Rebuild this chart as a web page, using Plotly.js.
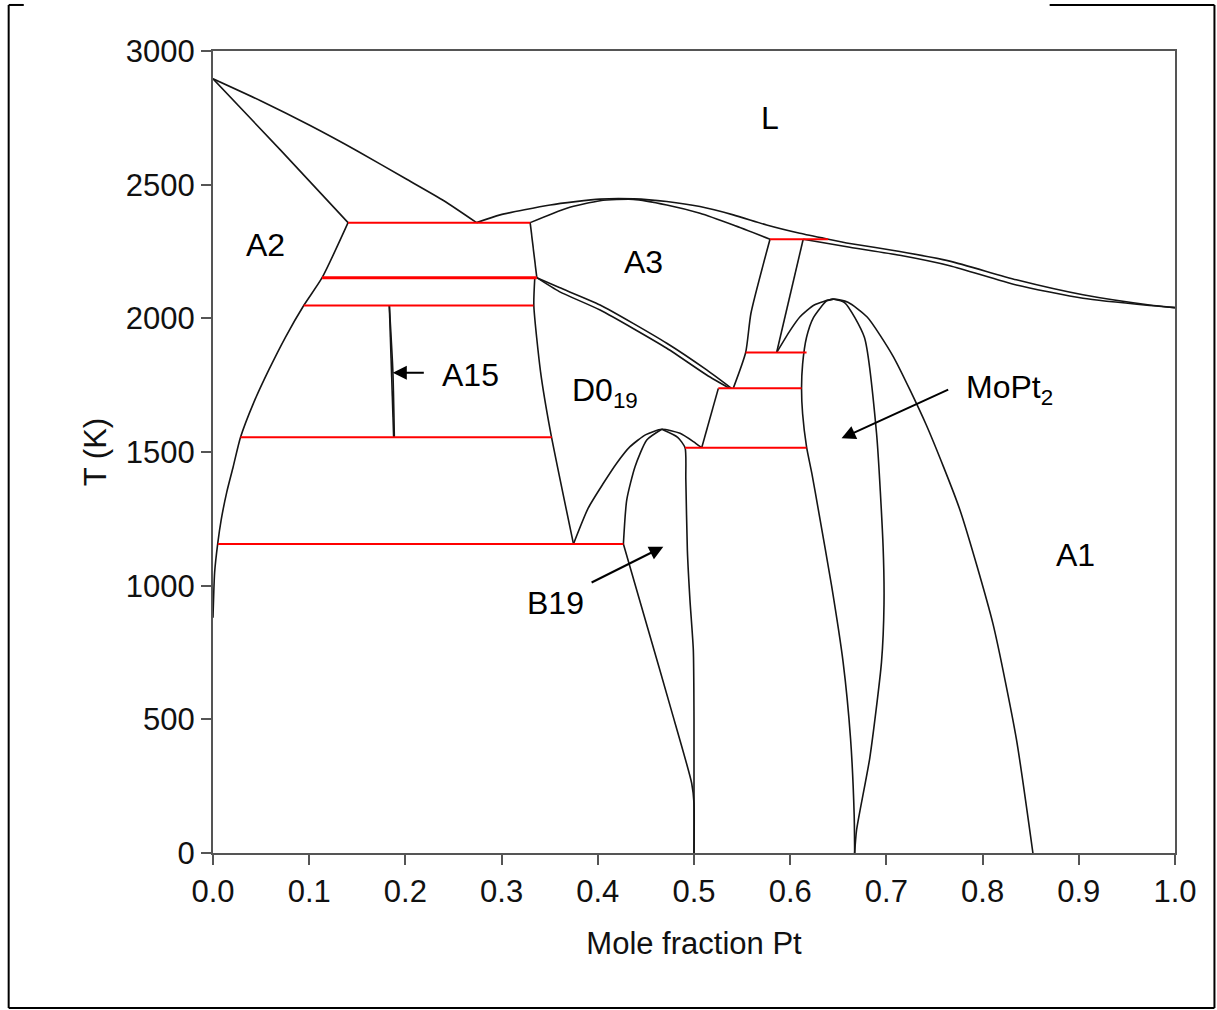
<!DOCTYPE html>
<html>
<head>
<meta charset="utf-8">
<script src="https://cdn.plot.ly/plotly-3.0.1.min.js"></script>
<style>
html,body{margin:0;padding:0;background:#fff;}
#chart{width:1217px;height:1010px;}
</style>
</head>
<body>
<div id="chart"></div>
<script>
// ---- data: phase boundaries (x = mole fraction Pt, T in K) ----
const liqA2X = [0, 0.05, 0.1, 0.15, 0.2, 0.24, 0.274];
const liqA2T = [2896, 2813, 2723, 2626, 2523, 2440, 2358];

const solA2X = [0, 0.07, 0.1404];
const solA2T = [2896, 2630, 2358];

const solvA2X = [0.1404, 0.1134, 0.0943, 0.0757, 0.058, 0.042, 0.0286, 0.021, 0.0143, 0.0085, 0.005, 0.0017, 0];
const solvA2T = [2358, 2152, 2048, 1932, 1807, 1682, 1555, 1445, 1350, 1246, 1160, 1050, 880];

const a15LeftX = [0.1833, 0.1852, 0.1878];
const a15LeftT = [2048, 1800, 1555];
const a15RightX = [0.1833, 0.1870, 0.1885];
const a15RightT = [2048, 1800, 1555];

const liqX = [0.274, 0.2985, 0.3505, 0.4024, 0.437, 0.4717, 0.5062, 0.5408, 0.5755, 0.61, 0.6395, 0.662, 0.7139, 0.7658, 0.8351, 0.9043, 0.9735, 1.0];
const liqT = [2358, 2387, 2424, 2446, 2447, 2437, 2418, 2387, 2349, 2318, 2296, 2280, 2250, 2214, 2144, 2088, 2050, 2040];

const solA3X = [0.3297, 0.3678, 0.4024, 0.437, 0.4717, 0.5062, 0.5408, 0.579];
const solA3T = [2358, 2412, 2440, 2445, 2424, 2393, 2349, 2296];

const solA1X = [0.6135, 0.662, 0.7139, 0.7658, 0.8351, 0.9043, 0.9735, 1.0];
const solA1T = [2296, 2266, 2236, 2197, 2125, 2075, 2048, 2040];

const a3LeftX = [0.3297, 0.3366];
const a3LeftT = [2358, 2152];

const d019LeftX = [0.3345, 0.3335, 0.3405, 0.3505, 0.3747];
const d019LeftT = [2152, 2048, 1800, 1582, 1156];

const a3LowX = [0.3366, 0.36, 0.4024, 0.4717, 0.5132, 0.5390];
const a3LowT = [2152, 2115, 2050, 1907, 1807, 1738];
const d019TopX = [0.3366, 0.36, 0.4024, 0.4717, 0.5132, 0.5370];
const d019TopT = [2152, 2100, 2031, 1888, 1788, 1738];

const a3RightX = [0.579, 0.5592, 0.5537, 0.5408];
const a3RightT = [2296, 2019, 1872, 1738];

const a1HighX = [0.6135, 0.5859];
const a1HighT = [2296, 1872];

const d019RightX = [0.5253, 0.508];
const d019RightT = [1738, 1516];

const a1SolvX = [0.5859, 0.60, 0.61, 0.625, 0.6447, 0.66, 0.68, 0.707, 0.7416, 0.7762, 0.8108, 0.835, 0.8523];
const a1SolvT = [1872, 1955, 2005, 2050, 2072, 2060, 2005, 1858, 1600, 1286, 857, 429, 0];

const moPt2LeftX = [0.6447, 0.6378, 0.6239, 0.617, 0.6129, 0.6118, 0.6129, 0.617, 0.6225, 0.6291, 0.643, 0.655, 0.6627, 0.6665, 0.667];
const moPt2LeftT = [2072, 2065, 2001, 1929, 1829, 1739, 1643, 1519, 1420, 1287, 1000, 714, 429, 143, 0];

const moPt2RightX = [0.6447, 0.6568, 0.6771, 0.6897, 0.6966, 0.6975, 0.6949, 0.6828, 0.669, 0.667];
const moPt2RightT = [2072, 2058, 1929, 1572, 1143, 930, 714, 357, 86, 0];

const d019ArchX = [0.3747, 0.39, 0.4058, 0.42, 0.4335, 0.45, 0.4665, 0.4855, 0.4993, 0.508];
const d019ArchT = [1156, 1290, 1383, 1460, 1520, 1565, 1585, 1570, 1539, 1516];

const b19UpperX = [0.4665, 0.4509, 0.4387, 0.4301, 0.4266];
const b19UpperT = [1585, 1545, 1445, 1321, 1156];
const b19LowerX = [0.4266, 0.452, 0.476, 0.4976, 0.5, 0.5];
const b19LowerT = [1156, 840, 540, 261, 186, 0];

const b19RightX = [0.4665, 0.483, 0.4907, 0.4915, 0.4931, 0.4958, 0.4993, 0.5, 0.5];
const b19RightT = [1585, 1555, 1516, 1400, 1133, 946, 759, 500, 0];

// invariant (three-phase) isotherms
const isoT    = [2358, 2152, 2048, 1555, 1156, 2296, 1872, 1738, 1516];
const isoLeft = [0.1404, 0.1134, 0.0943, 0.0286, 0.005, 0.579, 0.5537, 0.5253, 0.4907];
const isoRight= [0.3297, 0.3366, 0.3331, 0.3522, 0.4266, 0.6395, 0.617, 0.6118, 0.617];

// region labels
const labelText = ['L', 'A2', 'A3', 'D0<sub>19</sub>', 'A15', 'MoPt<sub>2</sub>', 'B19', 'A1'];
const labelX    = [0.5789, 0.0545, 0.447, 0.4076, 0.2674, 0.828, 0.3557, 0.8967];
const labelT    = [2750, 2275, 2211, 1721, 1788, 1732, 935, 1115];

// arrows: head and tail positions
const arrowHeadX = [0.1869, 0.6534, 0.4681];
const arrowHeadT = [1796, 1551, 1146];
const arrowTailX = [0.2207, 0.7658, 0.392];
const arrowTailT = [1796, 1736, 1009];

const xTicks = [0, 0.1, 0.2, 0.3, 0.4, 0.5, 0.6, 0.7, 0.8, 0.9, 1.0];
const xTickText = ['0.0','0.1','0.2','0.3','0.4','0.5','0.6','0.7','0.8','0.9','1.0'];
const yTicks = [0, 500, 1000, 1500, 2000, 2500, 3000];

// ---- build traces ----
const FONT = 'Liberation Sans, Arial, Helvetica, sans-serif';
const black = [
  [liqA2X, liqA2T, 'spline'], [solA2X, solA2T, 'spline'], [solvA2X, solvA2T, 'spline'],
  [a15LeftX, a15LeftT, 'linear'], [a15RightX, a15RightT, 'spline'],
  [liqX, liqT, 'spline'], [solA3X, solA3T, 'spline'], [solA1X, solA1T, 'spline'],
  [a3LeftX, a3LeftT, 'linear'], [d019LeftX, d019LeftT, 'spline'],
  [a3LowX, a3LowT, 'spline'], [d019TopX, d019TopT, 'spline'],
  [a3RightX, a3RightT, 'spline'], [a1HighX, a1HighT, 'linear'], [d019RightX, d019RightT, 'linear'],
  [a1SolvX, a1SolvT, 'spline'], [moPt2LeftX, moPt2LeftT, 'spline'], [moPt2RightX, moPt2RightT, 'spline'],
  [d019ArchX, d019ArchT, 'spline'], [b19UpperX, b19UpperT, 'spline'], [b19LowerX, b19LowerT, 'spline'],
  [b19RightX, b19RightT, 'spline']
];
const traces = black.map(c => ({
  type: 'scatter', mode: 'lines', x: c[0], y: c[1],
  line: {color: '#151515', width: 1.6, shape: c[2], smoothing: 0.6},
  hoverinfo: 'skip', showlegend: false
}));
isoT.forEach((t, i) => traces.push({
  type: 'scatter', mode: 'lines', x: [isoLeft[i], isoRight[i]], y: [t, t],
  line: {color: '#ff0000', width: t === 2152 ? 3 : 2},
  hoverinfo: 'skip', showlegend: false
}));

const annotations = labelText.map((t, i) => ({
  x: labelX[i], y: labelT[i], xref: 'x', yref: 'y', text: t, showarrow: false,
  font: {family: FONT, size: 32, color: '#000'}
}));
arrowHeadX.forEach((hx, i) => annotations.push({
  x: hx, y: arrowHeadT[i], ax: arrowTailX[i], ay: arrowTailT[i],
  xref: 'x', yref: 'y', axref: 'x', ayref: 'y', text: '', showarrow: true,
  arrowhead: 2, arrowsize: 1.4, arrowwidth: 2, arrowcolor: '#000', standoff: 0
}));

// outer frame of the figure (paper coords); the top edge shows only at the corners
const fx0 = -0.2124, fx1 = 1.0410, fy0 = -0.1933, fy1 = 1.0574;
const topLeftEnd = -0.1967, topRightStart = 0.8697;
const shapes = [
  {type: 'line', xref: 'paper', yref: 'paper', x0: fx0, x1: fx0, y0: fy0, y1: fy1, line: {color: '#000', width: 2}},
  {type: 'line', xref: 'paper', yref: 'paper', x0: fx1, x1: fx1, y0: fy0, y1: fy1, line: {color: '#000', width: 2}},
  {type: 'line', xref: 'paper', yref: 'paper', x0: fx0, x1: fx1, y0: fy0, y1: fy0, line: {color: '#000', width: 2}},
  {type: 'line', xref: 'paper', yref: 'paper', x0: fx0, x1: topLeftEnd, y0: fy1, y1: fy1, line: {color: '#000', width: 2}},
  {type: 'line', xref: 'paper', yref: 'paper', x0: topRightStart, x1: fx1, y0: fy1, y1: fy1, line: {color: '#000', width: 2}}
];

const axisCommon = {
  showgrid: false, zeroline: false, showline: true, mirror: true,
  linecolor: '#555', linewidth: 2, ticks: 'outside', ticklen: 10, tickwidth: 2, tickcolor: '#555',
  tickfont: {family: FONT, size: 31, color: '#111'}, automargin: false
};

const layout = {
  width: 1217, height: 1010,
  margin: {l: 212.5, r: 41.5, t: 51, b: 157, pad: 0},
  paper_bgcolor: '#fff', plot_bgcolor: '#fff',
  showlegend: false,
  xaxis: Object.assign({}, axisCommon, {
    range: [0, 1], tickvals: xTicks, ticktext: xTickText,
    title: {text: 'Mole fraction Pt', font: {family: FONT, size: 31, color: '#111'}, standoff: 24}
  }),
  yaxis: Object.assign({}, axisCommon, {
    range: [0, 3000], tickvals: yTicks,
    title: {text: 'T (K)', font: {family: FONT, size: 31, color: '#111'}, standoff: 10}
  }),
  annotations: annotations,
  shapes: shapes
};

Plotly.newPlot('chart', traces, layout, {staticPlot: true, displayModeBar: false});
</script>
</body>
</html>
